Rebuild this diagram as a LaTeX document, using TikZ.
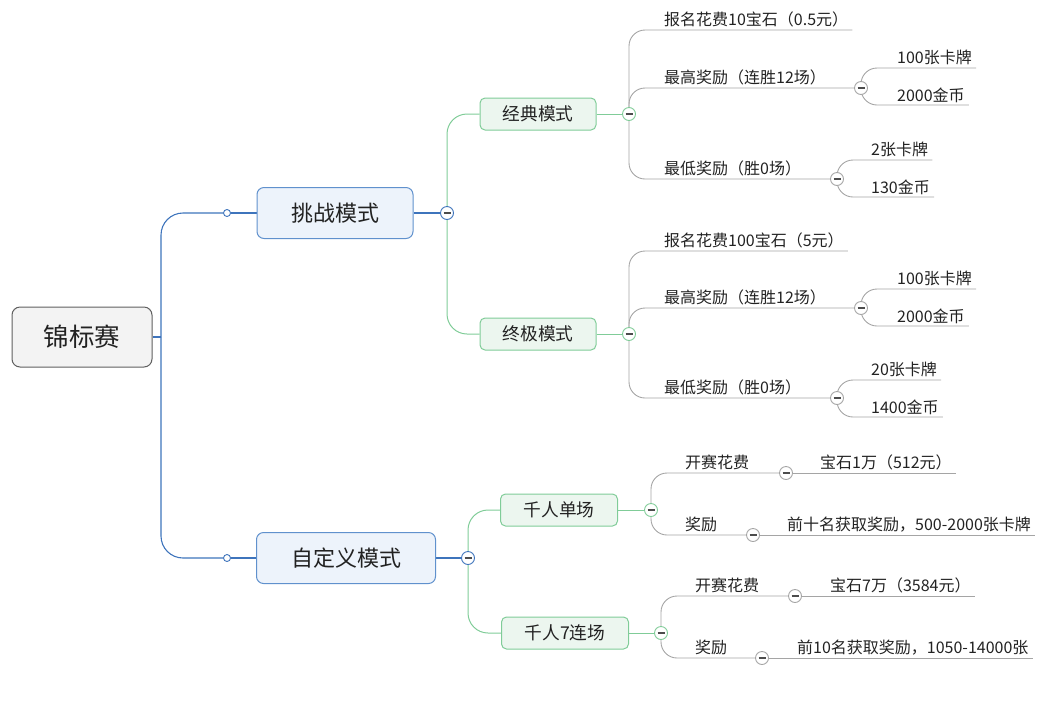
\documentclass[tikz,border=0pt]{standalone}
\usepackage{fontspec}
\newfontfamily\cjk{Noto Sans CJK SC}
\usetikzlibrary{backgrounds}
\definecolor{MMBlue}{RGB}{62,116,188}
\definecolor{MMBlueFill}{RGB}{237,243,251}
\definecolor{MMBlueEdge}{RGB}{96,145,205}
\definecolor{MMGreen}{RGB}{128,204,152}
\definecolor{MMGreenFill}{RGB}{236,246,239}
\definecolor{MMGray}{RGB}{165,165,165}
\definecolor{MMRootFill}{RGB}{243,243,243}
\definecolor{MMRootEdge}{RGB}{95,95,95}
\definecolor{MMText}{RGB}{34,34,34}

\begin{document}
\begin{tikzpicture}[x=1pt, y=-1pt,
    rootbox/.style={rectangle, rounded corners=8pt, draw=MMRootEdge, fill=MMRootFill,
                    line width=1pt, minimum width=140pt, minimum height=60pt,
                    font=\cjk\fontsize{25.5}{30}\selectfont, text=MMText},
    mainbox/.style={rectangle, rounded corners=7pt, draw=MMBlueEdge, fill=MMBlueFill,
                    line width=1pt, minimum height=51pt,
                    font=\cjk\fontsize{22}{26}\selectfont, text=MMText},
    subbox/.style={rectangle, rounded corners=5pt, draw=MMGreen, fill=MMGreenFill,
                   line width=1pt, minimum height=32pt,
                   font=\cjk\fontsize{17.7}{21}\selectfont, text=MMText},
    leaf/.style={anchor=south west, inner xsep=4pt, inner ysep=2.5pt,
                 font=\cjk\fontsize{16}{19}\selectfont, text=MMText},
    dot/.style={circle, draw=MMBlue, fill=white, line width=0.9pt,
                minimum size=7pt, inner sep=0pt},
    fold/.style={circle, draw=#1, fill=white, line width=0.9pt,
                 minimum size=13pt, inner sep=0pt,
                 path picture={\draw[line width=1.2pt, black!70]
                   ([xshift=-3.5pt]path picture bounding box.center) --
                   ([xshift=3.5pt]path picture bounding box.center);}},
    blueline/.style={draw=MMBlue, line width=1.1pt, rounded corners=22pt},
    greenline/.style={draw=MMGreen, line width=1pt, rounded corners=20pt},
    grayline/.style={draw=MMGray, line width=0.9pt, rounded corners=16pt}
  ]
  \useasboundingbox (0,0) rectangle (1038,721);

  \node[rootbox] (root) at (82,337) {锦标赛};
  \coordinate (rj) at (161,337);

  \node[mainbox, minimum width=156pt] (tz) at (335,213) {挑战模式};
  \node[mainbox, minimum width=179pt] (zdy) at (346,558) {自定义模式};

  \node[subbox, minimum width=116pt] (jd) at (538,114) {经典模式};
  \node[subbox, minimum width=116pt] (zj) at (538,334) {终极模式};
  \node[subbox, minimum width=117pt] (qd) at (559,510) {千人单场};
  \node[subbox, minimum width=127pt] (ql) at (565,633) {千人7连场};

  % classic mode
  \node[leaf] (j1) at (660,30) {报名花费10宝石（0.5元）};
  \node[leaf] (j2) at (660,88) {最高奖励（连胜12场）};
  \node[leaf] (j2a) at (893,68) {100张卡牌};
  \node[leaf] (j2b) at (893,105) {2000金币};
  \node[leaf] (j3) at (660,179) {最低奖励（胜0场）};
  \node[leaf] (j3a) at (867,160) {2张卡牌};
  \node[leaf] (j3b) at (867,197) {130金币};

  % ultimate mode
  \node[leaf] (u1) at (660,251) {报名花费100宝石（5元）};
  \node[leaf] (u2) at (660,308) {最高奖励（连胜12场）};
  \node[leaf] (u2a) at (893,289) {100张卡牌};
  \node[leaf] (u2b) at (893,326) {2000金币};
  \node[leaf] (u3) at (660,398) {最低奖励（胜0场）};
  \node[leaf] (u3a) at (867,380) {20张卡牌};
  \node[leaf] (u3b) at (867,417) {1400金币};

  % custom mode
  \node[leaf] (s1) at (681,473) {开赛花费};
  \node[leaf] (s1a) at (816,473) {宝石1万（512元）};
  \node[leaf] (s2) at (681,535) {奖励};
  \node[leaf] (s2a) at (783,535) {前十名获取奖励，500-2000张卡牌};
  \node[leaf] (l1) at (691,596) {开赛花费};
  \node[leaf] (l1a) at (826,596) {宝石7万（3584元）};
  \node[leaf] (l2) at (691,658) {奖励};
  \node[leaf] (l2a) at (793,658) {前10名获取奖励，1050-14000张};

  \node[dot] (d1) at (227,213) {};
  \node[dot] (d2) at (227,558) {};
  \node[fold=MMBlue] (f1) at (447,213) {};
  \node[fold=MMBlue] (f2) at (468,558) {};
  \node[fold=MMGreen] (f11) at (629,114) {};
  \node[fold=MMGreen] (f12) at (629,334) {};
  \node[fold=MMGreen] (f21) at (651,510) {};
  \node[fold=MMGreen] (f22) at (661,633) {};
  \node[fold=MMGray] (g12) at (861,88) {};
  \node[fold=MMGray] (g13) at (837,179) {};
  \node[fold=MMGray] (h12) at (861,308) {};
  \node[fold=MMGray] (h13) at (837,398) {};
  \node[fold=MMGray] (k1) at (786,473) {};
  \node[fold=MMGray] (k2) at (753,535) {};
  \node[fold=MMGray] (m1) at (795,596) {};
  \node[fold=MMGray] (m2) at (762,658) {};

  \begin{scope}[on background layer]
  \draw[blueline] (root.east) -- (rj);
  \foreach \a/\b in {rj/d1.west, rj/d2.west} {
    \draw[blueline] (\a) |- (\b);
  }
  \foreach \a/\b in {d1/tz, d2/zdy, tz/f1, zdy/f2} {
    \draw[blueline] (\a) -- (\b);
  }

  \foreach \a/\b in {f1.north/jd.west, f1.south/zj.west, f2.north/qd.west, f2.south/ql.west} {
    \draw[greenline] (\a) |- (\b);
  }
  \foreach \a/\b in {jd/f11, zj/f12, qd/f21, ql/f22} {
    \draw[greenline] (\a) -- (\b);
  }

  \foreach \a/\b in {f11.north/j1.south east, f11.north/g12.west, f11.south/g13.west,
                     g12.north/j2a.south east, g12.south/j2b.south east,
                     g13.north/j3a.south east, g13.south/j3b.south east,
                     f12.north/u1.south east, f12.north/h12.west, f12.south/h13.west,
                     h12.north/u2a.south east, h12.south/u2b.south east,
                     h13.north/u3a.south east, h13.south/u3b.south east,
                     f21.north/k1.west, f21.south/k2.west,
                     f22.north/m1.west, f22.south/m2.west} {
    \draw[grayline] (\a) |- (\b);
  }
  \foreach \a/\b in {k1/s1a, k2/s2a, m1/l1a, m2/l2a} {
    \draw[grayline] (\a.east) -- (\b.south east);
  }
  \end{scope}
\end{tikzpicture}
\end{document}
